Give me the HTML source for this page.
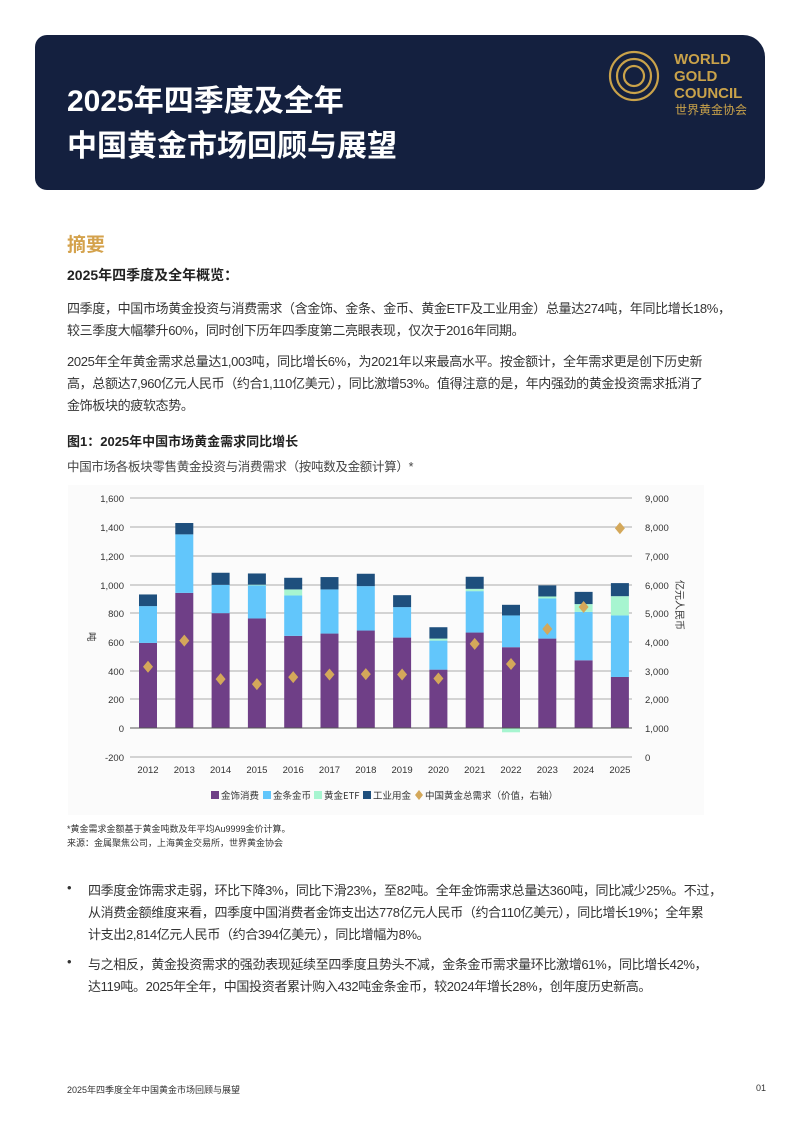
<!DOCTYPE html>
<html><head><meta charset="utf-8"><style>
body{margin:0;background:#fff;width:794px;height:1123px;position:relative;overflow:hidden;font-family:"Liberation Sans","Noto Sans CJK SC",sans-serif;color:#222}
.a{position:absolute;white-space:nowrap}
.hdr{position:absolute;left:35px;top:35px;width:730px;height:155px;background:#14203f;border-radius:12px 22px 12px 12px}
.t{color:#fff;font-weight:bold;font-size:30px}
.p{font-size:13px;color:#333;letter-spacing:-0.35px}
</style></head><body>
<div class="hdr"></div>
<div class="a t" style="left:67px;top:76px">2025年四季度及全年</div>
<div class="a t" style="left:67px;top:121px">中国黄金市场回顾与展望</div>
<svg class="a" style="left:606px;top:48px" width="160" height="75">
<g fill="none" stroke="#c9a24a" stroke-width="2.2"><circle cx="28" cy="28" r="24"/><circle cx="28" cy="28" r="17"/><circle cx="28" cy="28" r="10"/></g>
<g fill="#c9a24a" font-family="Liberation Sans,sans-serif" font-size="15" font-weight="bold"><text x="68" y="16">WORLD</text><text x="68" y="33">GOLD</text><text x="68" y="50">COUNCIL</text></g>
<text x="69" y="66" fill="#c9a24a" font-size="12" font-family="Noto Sans CJK SC,sans-serif">世界黄金协会</text>
</svg>
<div class="a" style="left:67px;top:230px;font-size:19px;color:#d4a24c;font-weight:bold">摘要</div>
<div class="a" style="left:67px;top:265px;font-size:14px;font-weight:bold;color:#222">2025年四季度及全年概览：</div>
<div class="a p" style="left:67px;top:298px">四季度，中国市场黄金投资与消费需求（含金饰、金条、金币、黄金ETF及工业用金）总量达274吨，年同比增长18%，</div>
<div class="a p" style="left:67px;top:320px">较三季度大幅攀升60%，同时创下历年四季度第二亮眼表现，仅次于2016年同期。</div>
<div class="a p" style="left:67px;top:351px">2025年全年黄金需求总量达1,003吨，同比增长6%，为2021年以来最高水平。按金额计，全年需求更是创下历史新</div>
<div class="a p" style="left:67px;top:373px">高，总额达7,960亿元人民币（约合1,110亿美元），同比激增53%。值得注意的是，年内强劲的黄金投资需求抵消了</div>
<div class="a p" style="left:67px;top:395px">金饰板块的疲软态势。</div>
<div class="a" style="left:67px;top:431px;font-size:13px;font-weight:bold">图1：2025年中国市场黄金需求同比增长</div>
<div class="a" style="left:67px;top:456px;font-size:12.5px;color:#444;letter-spacing:-0.3px">中国市场各板块零售黄金投资与消费需求（按吨数及金额计算）*</div>
<svg class="a" style="left:0;top:0" width="794" height="830" font-family="Liberation Sans,sans-serif" font-size="9.5" fill="#333">
<rect x="68" y="485" width="636" height="330" fill="#fbfbfb"/>
<g stroke="#bbb" stroke-width="1.2">
<line x1="130" x2="632" y1="498" y2="498"/><line x1="130" x2="632" y1="527" y2="527"/><line x1="130" x2="632" y1="556" y2="556"/><line x1="130" x2="632" y1="585" y2="585"/><line x1="130" x2="632" y1="613" y2="613"/><line x1="130" x2="632" y1="642" y2="642"/><line x1="130" x2="632" y1="671" y2="671"/><line x1="130" x2="632" y1="699" y2="699"/><line x1="130" x2="632" y1="757" y2="757"/>
</g>
<g text-anchor="end"><text x="124" y="502">1,600</text><text x="124" y="531">1,400</text><text x="124" y="560">1,200</text><text x="124" y="589">1,000</text><text x="124" y="617">800</text><text x="124" y="646">600</text><text x="124" y="675">400</text><text x="124" y="703">200</text><text x="124" y="732">0</text><text x="124" y="761">-200</text></g>
<g><text x="645" y="502">9,000</text><text x="645" y="531">8,000</text><text x="645" y="560">7,000</text><text x="645" y="589">6,000</text><text x="645" y="617">5,000</text><text x="645" y="646">4,000</text><text x="645" y="675">3,000</text><text x="645" y="703">2,000</text><text x="645" y="732">1,000</text><text x="645" y="761">0</text></g>
<text x="92" y="628" transform="rotate(90 88 628)" font-family="Noto Sans CJK SC,sans-serif">吨</text>
<text x="0" y="0" transform="translate(676,605) rotate(90)" text-anchor="middle" font-family="Noto Sans CJK SC,sans-serif" font-size="10">亿元人民币</text>
<g id="bars"></g>
<line x1="130" x2="632" y1="728" y2="728" stroke="#555" stroke-width="1"/>
<g text-anchor="middle" id="yrs"></g>
<g font-family="Noto Sans CJK SC,sans-serif" font-size="9.5">
<rect x="211" y="791" width="8" height="8" fill="#6f3f87"/><text x="221" y="799">金饰消费</text>
<rect x="263" y="791" width="8" height="8" fill="#62c6fb"/><text x="273" y="799">金条金币</text>
<rect x="314" y="791" width="8" height="8" fill="#a7f5d0"/><text x="324" y="799">黄金ETF</text>
<rect x="363" y="791" width="8" height="8" fill="#1e4f7d"/><text x="373" y="799">工业用金</text>
<path d="M419 790l4 5-4 5-4-5z" fill="#d4a85a"/><text x="425" y="799">中国黄金总需求（价值，右轴）</text>
</g>
</svg>
<div class="a" style="left:67px;top:822px;font-size:9px;color:#333">*黄金需求金额基于黄金吨数及年平均Au9999金价计算。</div>
<div class="a" style="left:67px;top:836px;font-size:9px;color:#333">来源：金属聚焦公司，上海黄金交易所，世界黄金协会</div>
<div class="a p" style="left:67px;top:880px">•</div>
<div class="a p" style="left:88px;top:880px">四季度金饰需求走弱，环比下降3%，同比下滑23%，至82吨。全年金饰需求总量达360吨，同比减少25%。不过，</div>
<div class="a p" style="left:88px;top:902px">从消费金额维度来看，四季度中国消费者金饰支出达778亿元人民币（约合110亿美元），同比增长19%；全年累</div>
<div class="a p" style="left:88px;top:924px">计支出2,814亿元人民币（约合394亿美元），同比增幅为8%。</div>
<div class="a p" style="left:67px;top:954px">•</div>
<div class="a p" style="left:88px;top:954px">与之相反，黄金投资需求的强劲表现延续至四季度且势头不减，金条金币需求量环比激增61%，同比增长42%，</div>
<div class="a p" style="left:88px;top:976px">达119吨。2025年全年，中国投资者累计购入432吨金条金币，较2024年增长28%，创年度历史新高。</div>
<div class="a" style="left:67px;top:1083px;font-size:9px;color:#333">2025年四季度全年中国黄金市场回顾与展望</div>
<div class="a" style="left:756px;top:1083px;font-size:9px;color:#333">01</div>
<script>
var d=[[592,848,848,929,3132],[940,1347,1347,1426,4040],[799,996,996,1080,2700],[762,992,997,1075,2525],[641,922,964,1045,2770],[657,964,964,1050,2862],[678,987,987,1073,2874],[629,841,841,924,2862],[406,608,622,701,2720],[664,952,968,1052,3925],[562,783,783,857,3225],[622,901,915,992,4443],[471,808,862,947,5210],[355,783,917,1008,7950]];
var etfNeg={10:-30};
var ns="http://www.w3.org/2000/svg",g=document.getElementById('bars'),yg=document.getElementById('yrs');
function y(v){return 728-v*0.14375}
function r(x,a,b,c){var e=document.createElementNS(ns,'rect');var t=Math.min(y(a),y(b)),h=Math.abs(y(a)-y(b));e.setAttribute('x',x-9);e.setAttribute('y',t);e.setAttribute('width',18);e.setAttribute('height',h);e.setAttribute('fill',c);g.appendChild(e);}
d.forEach(function(v,i){var x=148+36.3*i;
r(x,0,v[0],'#6f3f87');r(x,v[0],v[1],'#62c6fb');r(x,v[1],v[2],'#a7f5d0');r(x,v[2],v[3],'#1e4f7d');
if(etfNeg[i])r(x,0,etfNeg[i],'#a7f5d0');
var L=(v[4]-1000)*0.2,cy=y(L);var p=document.createElementNS(ns,'path');p.setAttribute('d','M'+x+' '+(cy-6)+'l5 6-5 6-5-6z');p.setAttribute('fill','#d4a85a');g.appendChild(p);
var t=document.createElementNS(ns,'text');t.setAttribute('x',x);t.setAttribute('y',773);t.textContent=2012+i;yg.appendChild(t);});
</script>
</body></html>
